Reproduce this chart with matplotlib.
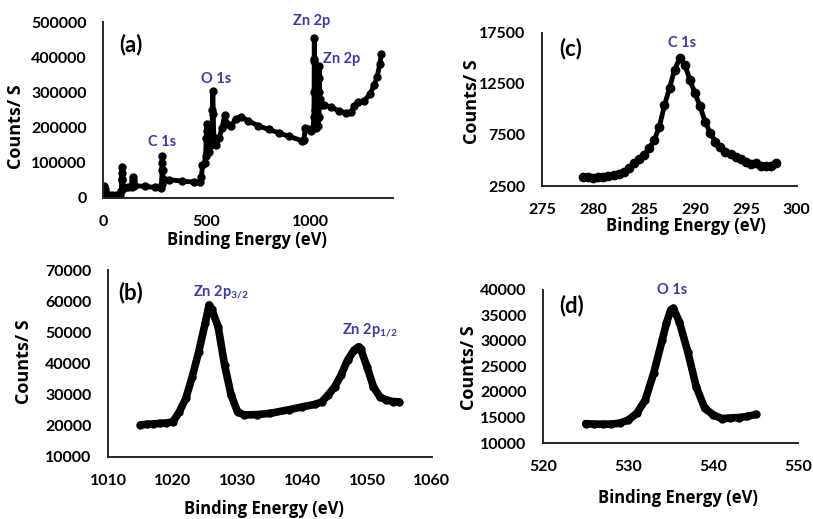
import matplotlib
matplotlib.use("Agg")
import matplotlib.pyplot as plt

# (a) survey spectrum
survey_be = [0, 3, 6, 9, 12, 20, 40, 60, 80, 88, 89, 90, 91, 92, 95, 100, 120, 140,
             142, 143, 144, 146, 150, 200, 250, 280, 283, 284, 285, 286, 287, 290,
             320, 380, 440, 470, 475, 480, 490, 495, 498, 500, 502, 505, 510, 520,
             526, 528, 530, 532, 535, 545, 560, 575, 587, 600, 620, 640, 665, 700,
             750, 800, 850, 900, 960, 970, 978, 990, 1005, 1015, 1019, 1020, 1020.5,
             1021, 1021.5, 1022, 1023, 1030, 1040, 1044, 1045, 1045.5, 1046, 1047,
             1055, 1070, 1100, 1140, 1175, 1200, 1215, 1230, 1260, 1290, 1310, 1325,
             1338, 1345]
survey_cps = [0, 15000, 35000, 25000, 12000, 10000, 9000, 8000, 9000, 20000, 55000,
              88000, 70000, 50000, 30000, 28000, 30000, 32000, 45000, 60000, 50000,
              40000, 35000, 33000, 30000, 29000, 40000, 80000, 120000, 100000, 80000,
              55000, 52000, 48000, 45000, 45000, 60000, 95000, 100000, 120000, 170000,
              210000, 190000, 170000, 130000, 150000, 180000, 250000, 305000, 240000,
              170000, 150000, 170000, 200000, 235000, 210000, 205000, 225000, 230000,
              220000, 205000, 195000, 185000, 175000, 163000, 165000, 200000, 195000,
              190000, 200000, 230000, 300000, 390000, 455000, 395000, 300000, 250000,
              200000, 205000, 230000, 300000, 375000, 340000, 280000, 265000, 265000,
              258000, 248000, 242000, 245000, 262000, 272000, 275000, 295000, 320000,
              345000, 380000, 410000]

# (b) Zn 2p
zn_be = [1015, 1016, 1017, 1018, 1019, 1020, 1021, 1022, 1023, 1024, 1025, 1025.6,
         1026, 1027, 1028, 1029, 1030, 1031, 1033, 1035, 1038, 1040, 1042, 1043, 1044,
         1045, 1046, 1047, 1048, 1048.7, 1049, 1050, 1051, 1052, 1053, 1054, 1055]
zn_cps = [20300, 20500, 20600, 20800, 20900, 21300, 24500, 28800, 35800, 43800, 53000,
          58800, 57500, 51800, 39500, 29900, 24500, 23500, 23600, 24000, 25200, 26100,
          26900, 27700, 29900, 32500, 36300, 41100, 44300, 45400, 44800, 39000, 32500,
          29300, 28300, 27800, 27700]

# (c) C 1s
c_be = [279, 279.5, 280, 280.5, 281, 281.5, 282, 282.5, 283, 283.5, 284, 284.5, 285,
        285.5, 286, 286.5, 287, 287.5, 288, 288.5, 289, 289.5, 290, 290.5, 291, 291.5,
        292, 292.5, 293, 293.5, 294, 294.5, 295, 295.5, 296, 296.5, 297, 297.5, 298]
c_cps = [3400, 3350, 3300, 3380, 3420, 3450, 3580, 3650, 3900, 4300, 4720, 5100, 5540,
         6200, 7000, 8300, 10400, 12100, 13900, 15000, 14400, 12900, 11600, 10300, 8800,
         7700, 6850, 6300, 5860, 5600, 5370, 5100, 4880, 4700, 4740, 4500, 4460, 4500,
         4720]

# (d) O 1s
o_be = [525, 526, 527, 528, 529, 530, 531, 532, 533, 534, 534.5, 535, 535.3, 536, 537,
        538, 539, 540, 541, 542, 543, 544, 545]
o_cps = [13800, 13700, 13700, 13700, 13900, 14500, 15800, 18400, 23700, 30200, 33500,
         36100, 36400, 33800, 27900, 21000, 16800, 15500, 14800, 14900, 15000, 15200,
         15600]

plt.rcParams["font.family"] = ["Lato", "DejaVu Sans"]
plt.rcParams["font.weight"] = "bold"
plt.rcParams["mathtext.fontset"] = "custom"
plt.rcParams["mathtext.rm"] = "Lato:bold"
plt.rcParams["mathtext.it"] = "Lato:bold"
plt.rcParams["mathtext.bf"] = "Lato:bold"

BLUE = "#3d3d9f"
SPINE = "#262626"
LABEL_FONT = ["Open Sans", "DejaVu Sans"]

fig = plt.figure(figsize=(8.13, 5.19), dpi=100)
ax_a = fig.add_axes([0.127, 0.6185, 0.356, 0.339])
ax_c = fig.add_axes([0.667, 0.6416, 0.313, 0.295])
ax_b = fig.add_axes([0.133, 0.1195, 0.398, 0.360])
ax_d = fig.add_axes([0.668, 0.1464, 0.314, 0.295])


def style(ax, xlim, xticks, ylim, yticks, ylab_xy, xlab_xy, tag, tag_xy):
    ax.set_xlim(*xlim)
    ax.set_ylim(*ylim)
    ax.set_xticks(xticks)
    ax.set_yticks(yticks)
    for s in ("top", "right"):
        ax.spines[s].set_visible(False)
    for s in ("left", "bottom"):
        ax.spines[s].set_color(SPINE)
        ax.spines[s].set_linewidth(1.4)
    ax.tick_params(length=0, labelsize=11.5, pad=12)
    ax.set_ylabel("Counts/ S", fontsize=13, fontweight="bold", family=LABEL_FONT)
    ax.set_xlabel("Binding Energy (eV)", fontsize=12, fontweight="bold",
                  family=LABEL_FONT)
    ax.yaxis.set_label_coords(*ylab_xy)
    ax.xaxis.set_label_coords(*xlab_xy)
    ax.text(tag_xy[0], tag_xy[1], tag, transform=ax.transAxes, fontsize=16,
            fontweight="bold", ha="center", va="center")


ax_a.plot(survey_be, survey_cps, color="black", lw=3.5, marker="o", ms=5,
          solid_joinstyle="round")
style(ax_a, (0, 1400), [0, 500, 1000], (0, 500000), range(0, 500001, 100000),
      (-0.269, 0.403), (0.497, -0.19), "(a)", (0.097, 0.875))
ax_a.text(284, 159000, "C 1s", color=BLUE, fontsize=10.5, ha="center", va="center")
ax_a.text(548, 338000, "O 1s", color=BLUE, fontsize=10.5, ha="center", va="center")
ax_a.text(1010, 503000, "Zn 2p", color=BLUE, fontsize=10.5, ha="center", va="center")
ax_a.text(1155, 395000, "Zn 2p", color=BLUE, fontsize=10.5, ha="center", va="center")

ax_c.plot(c_be, c_cps, color="black", lw=3.5, marker="o", ms=6)
style(ax_c, (275, 300), range(275, 301, 5), (2500, 17500), [2500, 7500, 12500, 17500],
      (-0.24, 0.55), (0.565, -0.2), "(c)", (0.11, 0.895))
ax_c.text(288.7, 16520, "C 1s", color=BLUE, fontsize=10.5, ha="center", va="center")

ax_b.plot(zn_be, zn_cps, color="black", lw=5.5, marker="o", ms=5,
          solid_capstyle="round", solid_joinstyle="round")
style(ax_b, (1010, 1060), range(1010, 1061, 10), (10000, 70000),
      range(10000, 70001, 10000), (-0.231, 0.508), (0.481, -0.232), "(b)", (0.068, 0.88))
ax_b.text(1023.1, 62900, "Zn 2p$_{3/2}$", color=BLUE, fontsize=10.5, ha="left",
          va="center")
ax_b.text(1046.1, 50740, "Zn 2p$_{1/2}$", color=BLUE, fontsize=10.5, ha="left",
          va="center")

ax_d.plot(o_be, o_cps, color="black", lw=5.5, marker="o", ms=5,
          solid_capstyle="round", solid_joinstyle="round")
style(ax_d, (520, 550), [520, 530, 540, 550], (10000, 40000),
      range(10000, 40001, 5000), (-0.255, 0.49), (0.53, -0.3), "(d)", (0.11, 0.895))
ax_d.text(535.2, 40000, "O 1s", color=BLUE, fontsize=10.5, ha="center", va="center")

fig.savefig("out.png", dpi=100)
